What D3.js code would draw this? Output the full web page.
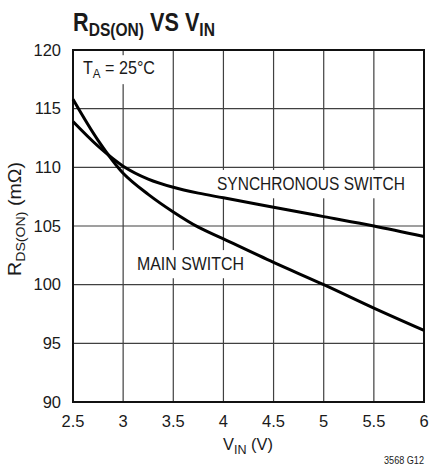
<!DOCTYPE html>
<html><head><meta charset="utf-8">
<script src="https://cdn.jsdelivr.net/npm/d3@7"></script>
<style>
html,body{margin:0;padding:0;background:#fff;}
svg text{font-family:"Liberation Sans Narrow","Arial Narrow","Liberation Sans",Arial,sans-serif;fill:#1a1a1a;}
</style></head>
<body><svg id="c" width="430" height="467"></svg>
<script>
const vin = [2.5, 2.75, 3, 3.25, 3.5, 3.75, 4, 4.5, 5, 5.5, 6];
const mainSwitch = [115.8, 112.3, 109.5, 107.7, 106.2, 104.9, 103.9, 101.9, 100.0, 98.0, 96.1];
const syncSwitch = [113.9, 111.8, 110.1, 109.0, 108.3, 107.8, 107.4, 106.6, 105.8, 105.0, 104.1];
const xTicks = [2.5, 3, 3.5, 4, 4.5, 5, 5.5, 6];
const yTicks = [90, 95, 100, 105, 110, 115, 120];

const svg = d3.select("#c");
const L = 73, R = 424, T = 50, B = 402;
const x = d3.scaleLinear().domain([2.5, 6]).range([L, R]);
const y = d3.scaleLinear().domain([90, 120]).range([B, T]);

function fit(sel, w, px) {
  const bb = sel.node().getBBox();
  const sx = w / bb.width;
  sel.attr("transform", `translate(${px * (1 - sx)},0) scale(${sx},1)`);
}

const g = svg.append("g");
g.selectAll("line.vg").data(xTicks).join("line").attr("class", "vg")
  .attr("x1", d => x(d)).attr("x2", d => x(d)).attr("y1", T).attr("y2", B)
  .attr("stroke", "#404040").attr("stroke-width", 1.2);
g.selectAll("line.hg").data(yTicks).join("line").attr("class", "hg")
  .attr("y1", d => y(d)).attr("y2", d => y(d)).attr("x1", L).attr("x2", R)
  .attr("stroke", "#404040").attr("stroke-width", 1.2);

const bg = svg.append("g");   // white backgrounds behind in-plot labels

svg.append("rect").attr("x", L).attr("y", T).attr("width", R - L).attr("height", B - T)
  .attr("fill", "none").attr("stroke", "#111").attr("stroke-width", 2);

svg.selectAll("text.yt").data(yTicks).join("text").attr("class", "yt")
  .attr("x", 61).attr("y", d => y(d) + 5.5).attr("text-anchor", "end")
  .attr("font-size", 16.5).text(d => d);
svg.selectAll("text.xt").data(xTicks).join("text").attr("class", "xt")
  .attr("x", d => x(d)).attr("y", 427).attr("text-anchor", "middle")
  .attr("font-size", 16.5).text(d => d);

const line = d3.line().x(d => x(d[0])).y(d => y(d[1])).curve(d3.curveCatmullRom.alpha(0.5));
[mainSwitch, syncSwitch].forEach(s => {
  svg.append("path").datum(vin.map((v, i) => [v, s[i]]))
    .attr("d", line).attr("fill", "none").attr("stroke", "#000")
    .attr("stroke-width", 3);
});

const sw = svg.append("text").attr("x", 217).attr("y", 190).attr("font-size", 18).text("SYNCHRONOUS SWITCH");
fit(sw, 188, 217);
const ms = svg.append("text").attr("x", 137).attr("y", 270).attr("font-size", 18).text("MAIN SWITCH");
fit(ms, 107, 137);

const ta = svg.append("text").attr("x", 83).attr("y", 74).attr("font-size", 18);
ta.append("tspan").text("T");
ta.append("tspan").attr("dy", 4).attr("font-size", 13).text("A");
ta.append("tspan").attr("dy", -4).text(" = 25°C");
fit(ta, 72, 83);

[[sw, 4, 4], [ms, 4, 4], [ta, 3, 3]].forEach(([t, px, py]) => {
  const r = t.node().getBoundingClientRect();
  bg.append("rect").attr("x", r.left - px).attr("y", r.top - py)
    .attr("width", r.width + 2 * px).attr("height", r.height + 2 * py).attr("fill", "#fff");
});

const tt = svg.append("text").attr("x", 73).attr("y", 31).attr("font-size", 25).attr("font-weight", "bold");
tt.append("tspan").text("R");
tt.append("tspan").attr("dy", 5).attr("font-size", 18).text("DS(ON)");
tt.append("tspan").attr("dy", -5).text(" VS V");
tt.append("tspan").attr("dy", 5).attr("font-size", 18).text("IN");
fit(tt, 142, 73);

const yg = svg.append("g").attr("transform", "translate(21,219) rotate(-90)");
const yl = yg.append("text").attr("x", 0).attr("y", 0).attr("text-anchor", "middle").attr("font-size", 18);
yl.append("tspan").text("R");
yl.append("tspan").attr("dy", 4).attr("font-size", 13).text("DS(ON)");
yl.append("tspan").attr("dy", -4).text(" (mΩ)");
fit(yl, 114, 0);

const xl = svg.append("text").attr("x", 248).attr("y", 450).attr("text-anchor", "middle").attr("font-size", 17);
xl.append("tspan").text("V");
xl.append("tspan").attr("dy", 4).attr("font-size", 13).text("IN");
xl.append("tspan").attr("dy", -4).text(" (V)");
fit(xl, 50, 248);

const ft = svg.append("text").attr("x", 424).attr("y", 464).attr("text-anchor", "end").attr("font-size", 11.5).text("3568 G12");
fit(ft, 40, 424);
</script></body></html>
